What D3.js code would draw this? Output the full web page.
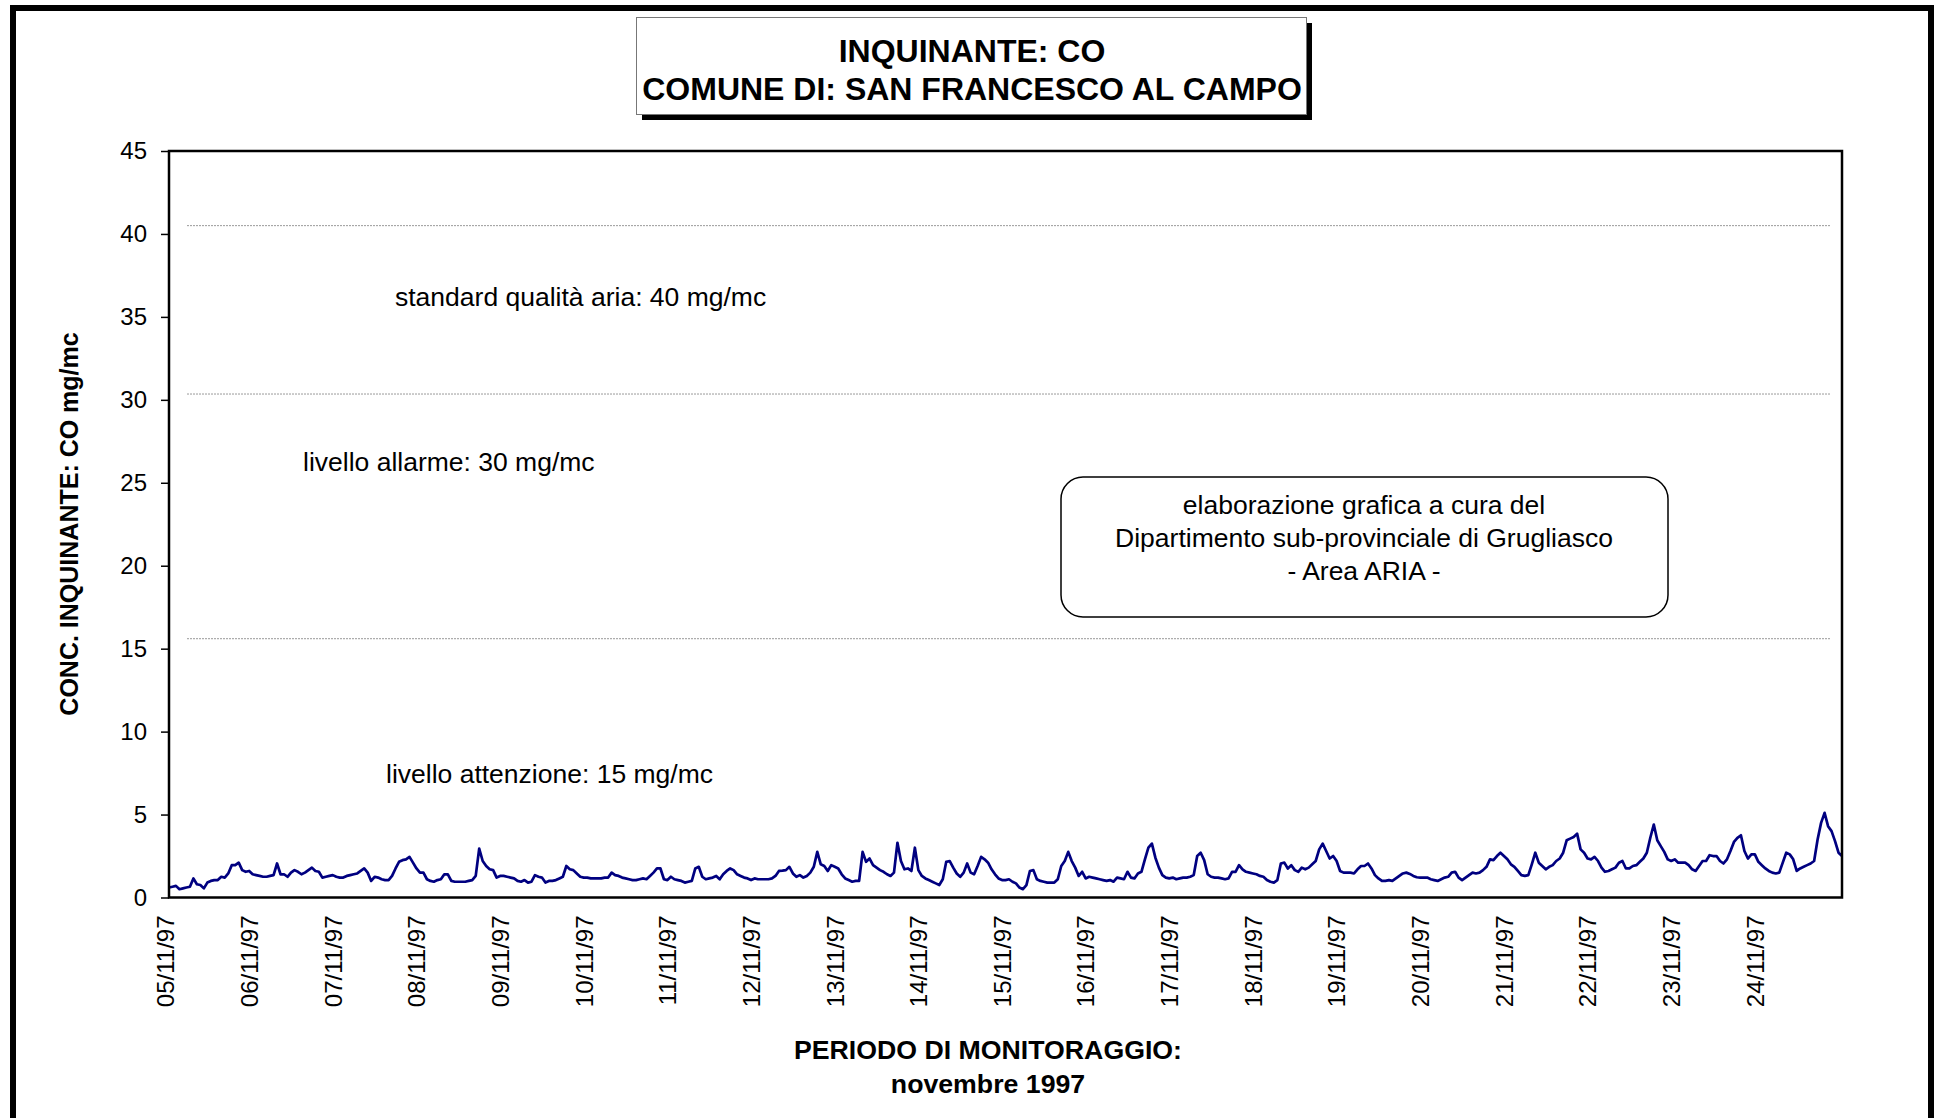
<!DOCTYPE html>
<html>
<head>
<meta charset="utf-8">
<script src="https://cdn.jsdelivr.net/npm/d3@7"></script>
<style>
body { margin: 0; background: #fff; }
svg { display: block; font-family: "Liberation Sans", Arial, sans-serif; }
</style>
</head>
<body>
<div id="chart"></div>
<script>
// Hourly CO concentration (mg/mc), one row per day, from 05/11/97 00:00
var coValues = [
  0.6,0.65,0.7,0.5,0.55,0.6,0.65,1.15,0.8,0.75,0.55,0.9,1.0,1.05,1.05,1.25,1.2,1.45,1.95,1.95,2.1,1.65,1.55,1.6,
  1.4,1.35,1.3,1.25,1.25,1.3,1.35,2.05,1.4,1.4,1.25,1.5,1.65,1.55,1.4,1.5,1.65,1.8,1.6,1.55,1.2,1.25,1.3,1.35,
  1.25,1.2,1.2,1.3,1.35,1.4,1.45,1.6,1.75,1.5,1.0,1.25,1.2,1.1,1.05,1.05,1.3,1.75,2.15,2.25,2.3,2.45,2.1,1.75,
  1.5,1.5,1.1,1.0,0.95,1.05,1.1,1.4,1.4,1.0,0.95,0.95,0.95,0.95,1.0,1.05,1.3,2.95,2.2,1.9,1.7,1.65,1.2,1.3,
  1.3,1.25,1.2,1.15,1.0,0.95,1.05,0.9,0.95,1.35,1.25,1.2,0.9,1.0,1.0,1.05,1.15,1.25,1.9,1.7,1.65,1.45,1.25,1.2,
  1.2,1.15,1.15,1.15,1.15,1.2,1.2,1.5,1.35,1.3,1.2,1.15,1.1,1.05,1.05,1.1,1.15,1.1,1.3,1.5,1.75,1.75,1.1,1.05,
  1.25,1.1,1.05,1.0,0.9,0.95,1.0,1.75,1.85,1.25,1.1,1.15,1.2,1.3,1.1,1.4,1.6,1.75,1.65,1.4,1.3,1.2,1.15,1.05,
  1.15,1.1,1.1,1.1,1.1,1.15,1.3,1.6,1.62,1.65,1.85,1.45,1.25,1.35,1.2,1.3,1.5,1.85,2.75,2.0,1.9,1.6,1.95,1.85,
  1.75,1.4,1.15,1.05,0.95,1.0,1.0,2.75,2.15,2.35,1.95,1.8,1.65,1.55,1.4,1.3,1.5,3.3,2.2,1.7,1.75,1.6,3.0,1.65,
  1.3,1.15,1.05,0.95,0.85,0.75,1.1,2.15,2.2,1.8,1.45,1.25,1.5,2.05,1.5,1.4,1.9,2.45,2.3,2.1,1.7,1.4,1.15,1.05,
  1.05,1.1,0.95,0.85,0.6,0.5,0.75,1.6,1.65,1.1,1.0,0.95,0.9,0.9,0.9,1.1,1.9,2.2,2.75,2.2,1.8,1.3,1.55,1.15,
  1.25,1.2,1.15,1.1,1.05,1.0,1.05,0.95,1.2,1.15,1.1,1.55,1.2,1.15,1.45,1.55,2.3,3.0,3.25,2.4,1.8,1.35,1.2,1.15,
  1.2,1.1,1.15,1.2,1.2,1.25,1.35,2.5,2.7,2.25,1.4,1.25,1.2,1.2,1.15,1.1,1.15,1.55,1.55,1.95,1.7,1.55,1.5,1.45,
  1.4,1.3,1.25,1.05,0.95,0.9,1.05,2.05,2.1,1.75,1.95,1.65,1.55,1.8,1.7,1.8,2.0,2.2,2.9,3.25,2.8,2.35,2.5,2.2,
  1.6,1.5,1.5,1.5,1.45,1.7,1.9,1.9,2.05,1.75,1.35,1.15,1.0,1.0,1.05,1.0,1.15,1.3,1.45,1.5,1.42,1.3,1.22,1.2,
  1.2,1.2,1.1,1.05,1.0,1.1,1.2,1.25,1.5,1.55,1.2,1.05,1.2,1.35,1.5,1.45,1.5,1.65,1.85,2.3,2.25,2.5,2.7,2.5,
  2.3,2.0,1.85,1.6,1.35,1.3,1.35,2.0,2.7,2.1,1.9,1.7,1.85,1.95,2.2,2.35,2.7,3.45,3.55,3.65,3.85,2.9,2.7,2.35,
  2.3,2.45,2.2,1.8,1.55,1.6,1.7,1.8,2.1,2.2,1.75,1.75,1.9,1.95,2.15,2.35,2.7,3.6,4.4,3.45,3.1,2.75,2.3,2.2,
  2.3,2.1,2.1,2.1,1.95,1.7,1.6,1.9,2.2,2.2,2.55,2.5,2.5,2.2,2.05,2.3,2.8,3.35,3.6,3.75,2.8,2.35,2.6,2.6,
  2.15,1.95,1.75,1.6,1.5,1.45,1.5,2.1,2.7,2.6,2.3,1.6,1.75,1.85,1.95,2.05,2.2,3.5,4.5,5.1,4.3,4.0,3.4,2.7,
  2.5
];

var dayLabels = ['05/11/97','06/11/97','07/11/97','08/11/97','09/11/97','10/11/97','11/11/97',
  '12/11/97','13/11/97','14/11/97','15/11/97','16/11/97','17/11/97','18/11/97','19/11/97',
  '20/11/97','21/11/97','22/11/97','23/11/97','24/11/97'];

var yTicks = [0, 5, 10, 15, 20, 25, 30, 35, 40, 45];

// limit lines as drawn in the picture (slightly above the nominal values)
var limitLevels = [40.5, 30.35, 15.6];
var limitLabels = ['standard qualità aria: 40 mg/mc', 'livello allarme: 30 mg/mc', 'livello attenzione: 15 mg/mc'];

var titleLines = ['INQUINANTE: CO', 'COMUNE DI: SAN FRANCESCO AL CAMPO'];
var xTitleLines = ['PERIODO DI MONITORAGGIO:', 'novembre 1997'];
var yTitle = 'CONC. INQUINANTE: CO mg/mc';
var creditLines = ['elaborazione grafica a cura del', 'Dipartimento sub-provinciale di Grugliasco', '- Area ARIA -'];

var width = 1934, height = 1118;
var plotLeft = 169, plotRight = 1842, plotTop = 151, plotBottom = 897.5;

var startDate = new Date(1997, 10, 5);
var endDate = new Date(1997, 10, 25);

var x = d3.scaleTime().domain([startDate, endDate]).range([plotLeft, plotRight]);
var y = d3.scaleLinear().domain([0, 45]).range([plotBottom, plotTop]);

var svg = d3.select('#chart').append('svg')
  .attr('width', width)
  .attr('height', height);

// outer frame
svg.append('rect')
  .attr('x', 13).attr('y', 8)
  .attr('width', 1918).attr('height', 1300)
  .attr('fill', 'none')
  .attr('stroke', '#000')
  .attr('stroke-width', 6);

// title box with shadow
svg.append('rect')
  .attr('x', 642).attr('y', 23)
  .attr('width', 670).attr('height', 97)
  .attr('fill', '#000');
svg.append('rect')
  .attr('x', 636.5).attr('y', 17.5)
  .attr('width', 670).attr('height', 97)
  .attr('fill', '#fff')
  .attr('stroke', '#777')
  .attr('stroke-width', 1);
svg.selectAll('.title-line')
  .data(titleLines)
  .enter().append('text')
  .attr('class', 'title-line')
  .attr('x', 972)
  .attr('y', function(d, i) { return 62 + i * 38; })
  .attr('text-anchor', 'middle')
  .style('font-size', '32px')
  .style('font-weight', 'bold')
  .text(function(d) { return d; });

// limit lines
svg.selectAll('.limit-line')
  .data(limitLevels)
  .enter().append('line')
  .attr('class', 'limit-line')
  .attr('x1', plotLeft + 18)
  .attr('x2', plotRight - 12)
  .attr('y1', function(d) { return y(d); })
  .attr('y2', function(d) { return y(d); })
  .attr('stroke', '#999')
  .attr('stroke-width', 1)
  .attr('stroke-dasharray', '2,1');

var labelPos = [[395, 306], [303, 471], [386, 783]];
svg.selectAll('.limit-label')
  .data(limitLabels)
  .enter().append('text')
  .attr('class', 'limit-label')
  .attr('x', function(d, i) { return labelPos[i][0]; })
  .attr('y', function(d, i) { return labelPos[i][1]; })
  .style('font-size', '26.5px')
  .text(function(d) { return d; });

// credit box
svg.append('rect')
  .attr('x', 1061).attr('y', 477)
  .attr('width', 607).attr('height', 140)
  .attr('rx', 22).attr('ry', 22)
  .attr('fill', '#fff')
  .attr('stroke', '#000')
  .attr('stroke-width', 1.5);
svg.selectAll('.credit-line')
  .data(creditLines)
  .enter().append('text')
  .attr('class', 'credit-line')
  .attr('x', 1364)
  .attr('y', function(d, i) { return 514 + i * 33; })
  .attr('text-anchor', 'middle')
  .style('font-size', '26.5px')
  .text(function(d) { return d; });

// data line
var line = d3.line()
  .x(function(d, i) { return x(d3.timeHour.offset(startDate, i)); })
  .y(function(d) { return y(d); });

svg.append('path')
  .datum(coValues)
  .attr('d', line)
  .attr('fill', 'none')
  .attr('stroke', '#000080')
  .attr('stroke-width', 2.7)
  .attr('stroke-linejoin', 'round');

// plot frame
svg.append('rect')
  .attr('x', plotLeft).attr('y', plotTop)
  .attr('width', plotRight - plotLeft).attr('height', plotBottom - plotTop)
  .attr('fill', 'none')
  .attr('stroke', '#000')
  .attr('stroke-width', 2.5);

// y axis
var yAxis = svg.append('g')
  .attr('transform', 'translate(' + plotLeft + ',0)')
  .call(d3.axisLeft(y).tickValues(yTicks).tickSize(8).tickPadding(14));
yAxis.select('.domain').remove();
yAxis.selectAll('line').attr('stroke', '#000').attr('stroke-width', 1.5);
yAxis.selectAll('text')
  .style('font-size', '24px')
  .style('font-family', '"Liberation Sans", Arial, sans-serif')
  .attr('fill', '#000');

// x axis labels
var dayTicks = dayLabels.map(function(d, i) { return d3.timeDay.offset(startDate, i); });
var xAxis = svg.append('g')
  .attr('transform', 'translate(0,' + plotBottom + ')')
  .call(d3.axisBottom(x).tickValues(dayTicks).tickSize(0)
    .tickFormat(function(d, i) { return dayLabels[i]; }));
xAxis.select('.domain').remove();
xAxis.selectAll('text')
  .style('font-size', '24px')
  .style('font-family', '"Liberation Sans", Arial, sans-serif')
  .attr('fill', '#000')
  .attr('text-anchor', 'end')
  .attr('transform', 'translate(0,18) rotate(-90)')
  .attr('x', 0)
  .attr('y', 0)
  .attr('dy', '0.2em');

// axis titles
svg.selectAll('.x-title')
  .data(xTitleLines)
  .enter().append('text')
  .attr('class', 'x-title')
  .attr('x', 988)
  .attr('y', function(d, i) { return 1059 + i * 34; })
  .attr('text-anchor', 'middle')
  .style('font-size', '26.7px')
  .style('font-weight', 'bold')
  .text(function(d) { return d; });

svg.append('text')
  .attr('transform', 'translate(78,524) rotate(-90)')
  .attr('text-anchor', 'middle')
  .style('font-size', '25px')
  .style('font-weight', 'bold')
  .text(yTitle);
</script>
</body>
</html>
